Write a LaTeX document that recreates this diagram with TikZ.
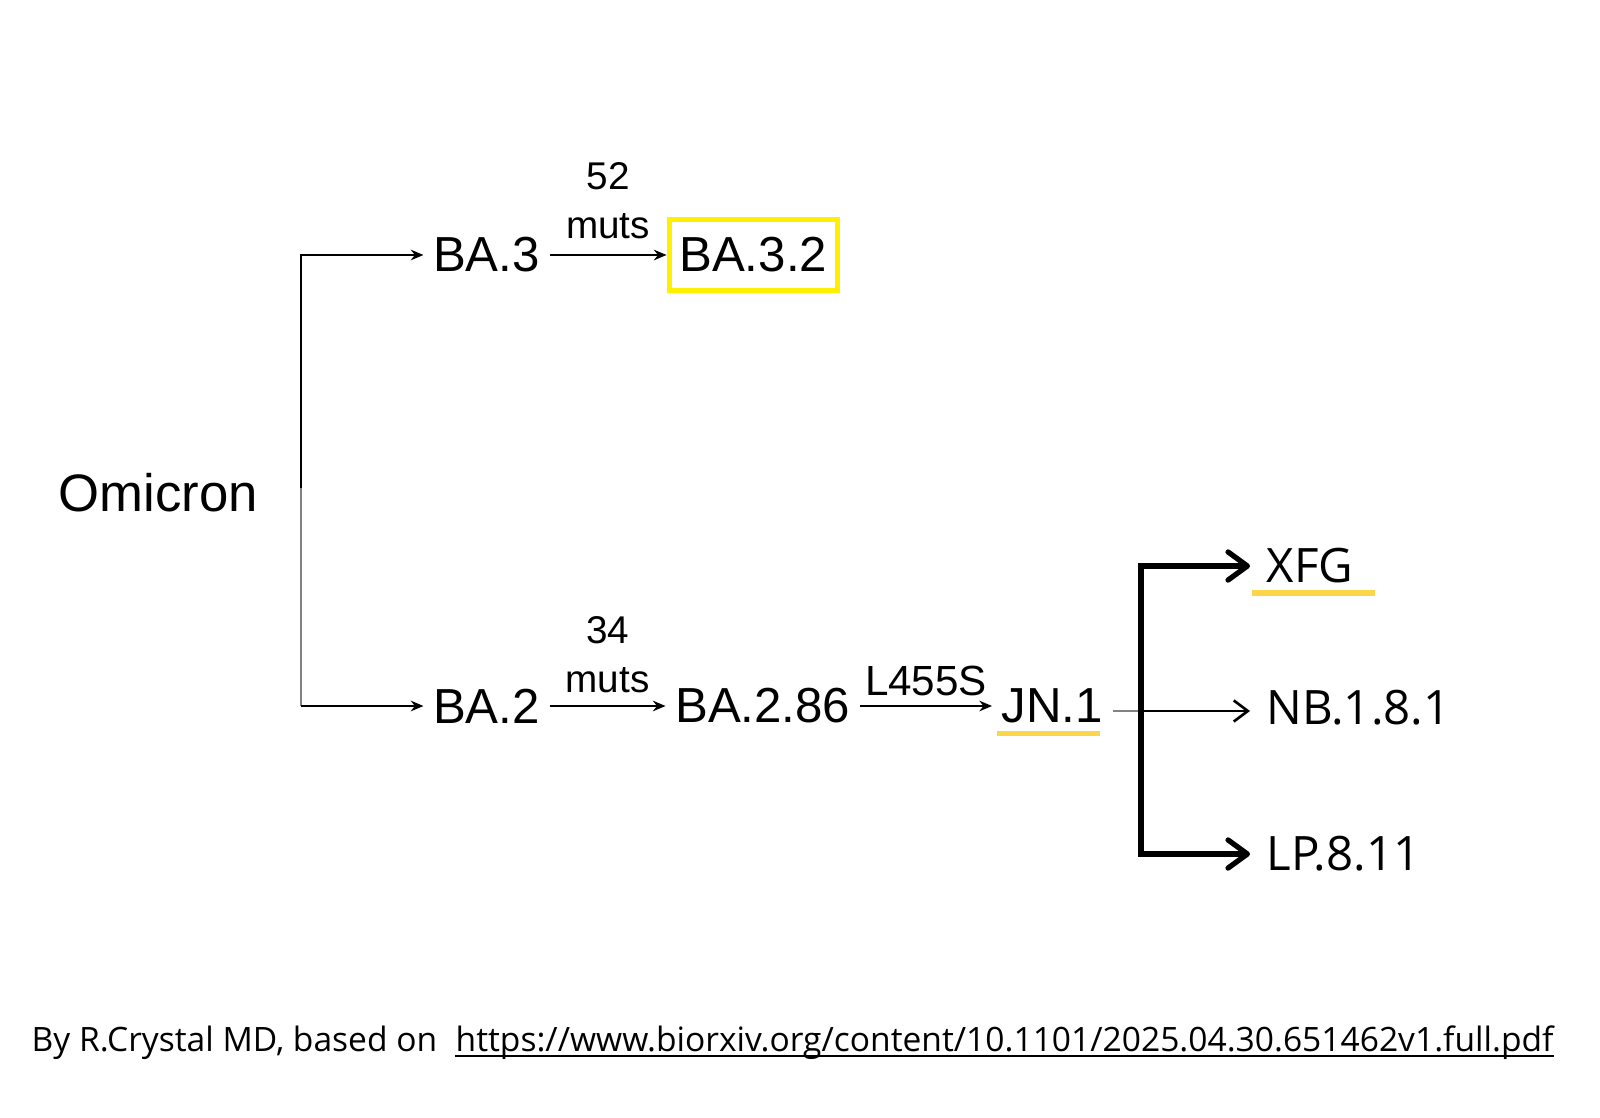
\documentclass[tikz,border=0pt]{standalone}
\usepackage{fontspec}
\setmainfont{Liberation Sans}
\newfontfamily\canvafont{Open Sans}
\usetikzlibrary{arrows.meta,positioning,calc}
\definecolor{BoxYellow}{RGB}{255,240,0}
\definecolor{MarkGold}{RGB}{250,214,72}
\definecolor{TrunkGray}{RGB}{130,130,130}

\begin{document}
\begin{tikzpicture}[
    lineage/.style={inner xsep=0.09cm, inner ysep=0pt, font=\fontsize{14}{17}\selectfont},
    muts/.style={inner sep=0pt, align=center, font=\fontsize{11}{14}\selectfont},
    variant/.style={inner xsep=0.16cm, inner ysep=0pt, anchor=west,
                    font=\canvafont\fontsize{13.5}{16}\selectfont},
    credit/.style={inner sep=0pt, font=\canvafont\fontsize{9.55}{12}\selectfont},
    arr/.style={-{Stealth[length=3.6pt,width=3pt]}, line width=0.7pt},
    bigarr/.style={-{Straight Barb[length=5.5pt,width=8pt,line cap=round,line join=round]},
                   line width=1.5pt},
    thinbarb/.style={-{Straight Barb[length=4pt,width=6pt]}, line width=0.75pt},
    hilite/.style={draw=MarkGold, line width=1.6pt},
]
\useasboundingbox (0,0) rectangle (16,-11.18);

% ── Root ──
\node[inner sep=0pt, font=\fontsize{15}{18}\selectfont] (omicron) at (1.585,-4.93) {Omicron};
\coordinate (split) at (3.01,-4.88);

% ── BA.3 branch ──
\node[lineage] (BA3) at (4.865,-2.55) {BA.3};
\node[lineage, draw=BoxYellow, line width=1.5pt, minimum width=1.68cm,
      minimum height=0.71cm, right=1.17cm of BA3] (BA32) {BA.3.2};

% ── BA.2 branch ──
\node[lineage] (BA2) at (4.865,-7.06) {BA.2};
\node[lineage, right=1.16cm of BA2] (BA286) {BA.2.86};
\node[lineage, right=1.32cm of BA286] (JN1) {JN.1};

% ── Descendants of JN.1 ──
\coordinate (fork) at (11.41,-7.11);
\node[variant] (XFG) at (12.50,-5.66) {XFG};
\node[variant] (NB181) at (12.50,-7.08) {NB.1.8.1};
\node[variant] (LP811) at (12.50,-8.54) {LP.8.11};

% ── Edge labels ──
\node[muts, above=0.15cm] (muts52) at ($(BA3.east)!0.5!(BA32.west)$) {52\\muts};
\node[muts, above=0.12cm] (muts34) at ($(BA2.east)!0.5!(BA286.west)$) {34\\muts};
\node[inner sep=0pt, font=\fontsize{12}{14}\selectfont, above=0.09cm] (l455s)
    at ($(BA286.east)!0.5!(JN1.west)$) {L455S};

% ── Arrows: trunk ──
\draw[arr] (split) |- (BA3.west);
\draw[line width=0.7pt, TrunkGray] (split) -- (split |- BA2.west);
\draw[arr] (split |- BA2.west) -- (BA2.west);

% ── Arrows: lineages ──
\draw[arr] (BA3) -- (BA32);
\draw[arr] (BA2) -- (BA286);
\draw[arr] (BA286) -- (JN1);

% ── Fork to descendants ──
\draw[line width=0.7pt, TrunkGray] (JN1.east |- fork) -- (fork);
\draw[bigarr] (fork) |- (XFG.west);
\draw[bigarr] (fork) |- (LP811.west);
\draw[thinbarb] (fork) -- (fork -| NB181.west);

% ── Highlights ──
\draw[hilite] ([xshift=0.05cm,yshift=-0.095cm]JN1.south west)
           -- ([xshift=-0.13cm,yshift=-0.095cm]JN1.south east);
\draw[hilite] ([xshift=0.02cm,yshift=-0.09cm]XFG.south west)
           -- ([xshift=0.05cm,yshift=-0.09cm]XFG.south east);

% ── Credit line ──
\node[credit, anchor=base west] (byline) at (0.31,-10.51) {By R.Crystal MD, based on};
\node[credit, base right=0.17cm of byline] (url)
    {https://www.biorxiv.org/content/10.1101/2025.04.30.651462v1.full.pdf};
\draw[line width=0.55pt] ([yshift=-0.05cm]url.base west) -- ([yshift=-0.05cm]url.base east);

\end{tikzpicture}
\end{document}
